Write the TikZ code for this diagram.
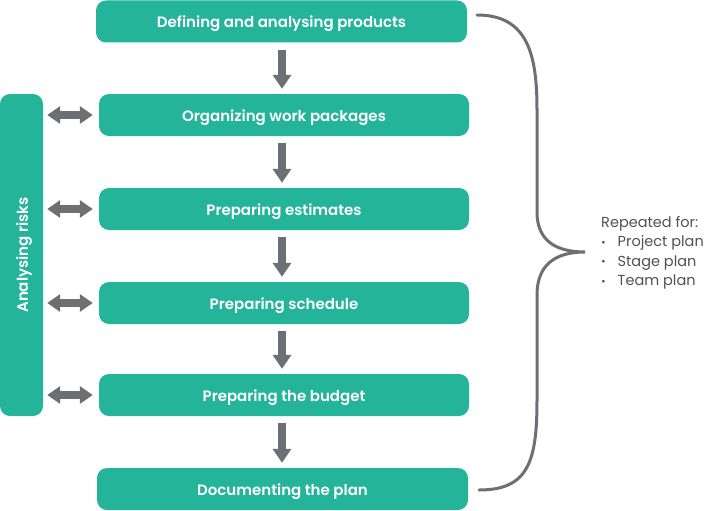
\documentclass[tikz,border=0pt]{standalone}
\usepackage{fontspec}
\setmainfont{Poppins}
\newfontfamily\semib{Poppins SemiBold}
\usetikzlibrary{arrows.meta}
\definecolor{teal}{HTML}{24B49A}
\definecolor{agray}{HTML}{6E6F75}
\definecolor{tgray}{HTML}{505155}
\newcommand{\bulletdot}{\makebox[16.5pt][l]{\hspace{0.5pt}\raisebox{0.3ex}{\scalebox{0.5}{$\bullet$}}}}
\begin{document}
\begin{tikzpicture}[x=1pt,y=-1pt,
  boxfont/.style={font=\fontsize{15}{17}\selectfont\semib,text height=12.5pt,text depth=0pt},
  stepbox/.style={fill=teal,rounded corners=10pt,text=white,boxfont,inner sep=0pt},
  darr/.style={draw=agray,line width=8pt,-{Triangle[width=18pt,length=14pt]}},
  dbl/.style={draw=agray,line width=8pt,{Triangle[width=17pt,length=13pt]}-{Triangle[width=17pt,length=13pt]}}]
\useasboundingbox (0,0) rectangle (709,511);
\node[stepbox,minimum width=371pt,minimum height=42pt] (b1) at (281.5,21.5) {Defining and analysing products};
\node[stepbox,minimum width=370pt,minimum height=42pt] (b2) at (284,115) {Organizing work packages};
\node[stepbox,minimum width=370pt,minimum height=42pt] (b3) at (284,209) {Preparing estimates};
\node[stepbox,minimum width=370pt,minimum height=42pt] (b4) at (284,303) {Preparing schedule};
\node[stepbox,minimum width=370pt,minimum height=42pt] (b5) at (284,395) {Preparing the budget};
\node[stepbox,minimum width=371pt,minimum height=42pt] (b6) at (282.5,489) {Documenting the plan};
\node[fill=teal,rounded corners=10pt,inner sep=0pt,minimum width=43pt,minimum height=322pt] (bar) at (21.5,255) {};
\node[text=white,boxfont,inner sep=0pt,rotate=90] (risk) at (bar.center) {Analysing risks};
\foreach \a/\b in {b1/b2,b2/b3,b3/b4,b4/b5,b5/b6}
  \draw[darr,shorten <=7pt,shorten >=5pt] (\a.south -| 282,0) -- (\b.north -| 282,0);
\foreach \b in {b2,b3,b4,b5}
  \draw[dbl,shorten <=4pt,shorten >=6pt] (bar.east |- \b.west) -- (\b.west);
\coordinate (bt) at (477,15);
\coordinate (bb) at (479,490);
\coordinate (tip) at (585,252);
\draw[agray,line width=3pt,line cap=round]
  (bt) .. controls (528,15) and (537,55) .. (537,110)
  -- (537,212) .. controls (537,240) and (555,252) .. (tip)
  .. controls (555,252) and (537,265) .. (537,295)
  -- (537,400) .. controls (537,462) and (528,490) .. (bb);
\node[anchor=north west,align=left,text=tgray,font=\fontsize{14.5}{19.5}\selectfont,inner sep=0pt] (rep) at (601,216)
  {Repeated for:\\
   \bulletdot Project plan\\
   \bulletdot Stage plan\\
   \bulletdot Team plan};
\end{tikzpicture}
\end{document}
